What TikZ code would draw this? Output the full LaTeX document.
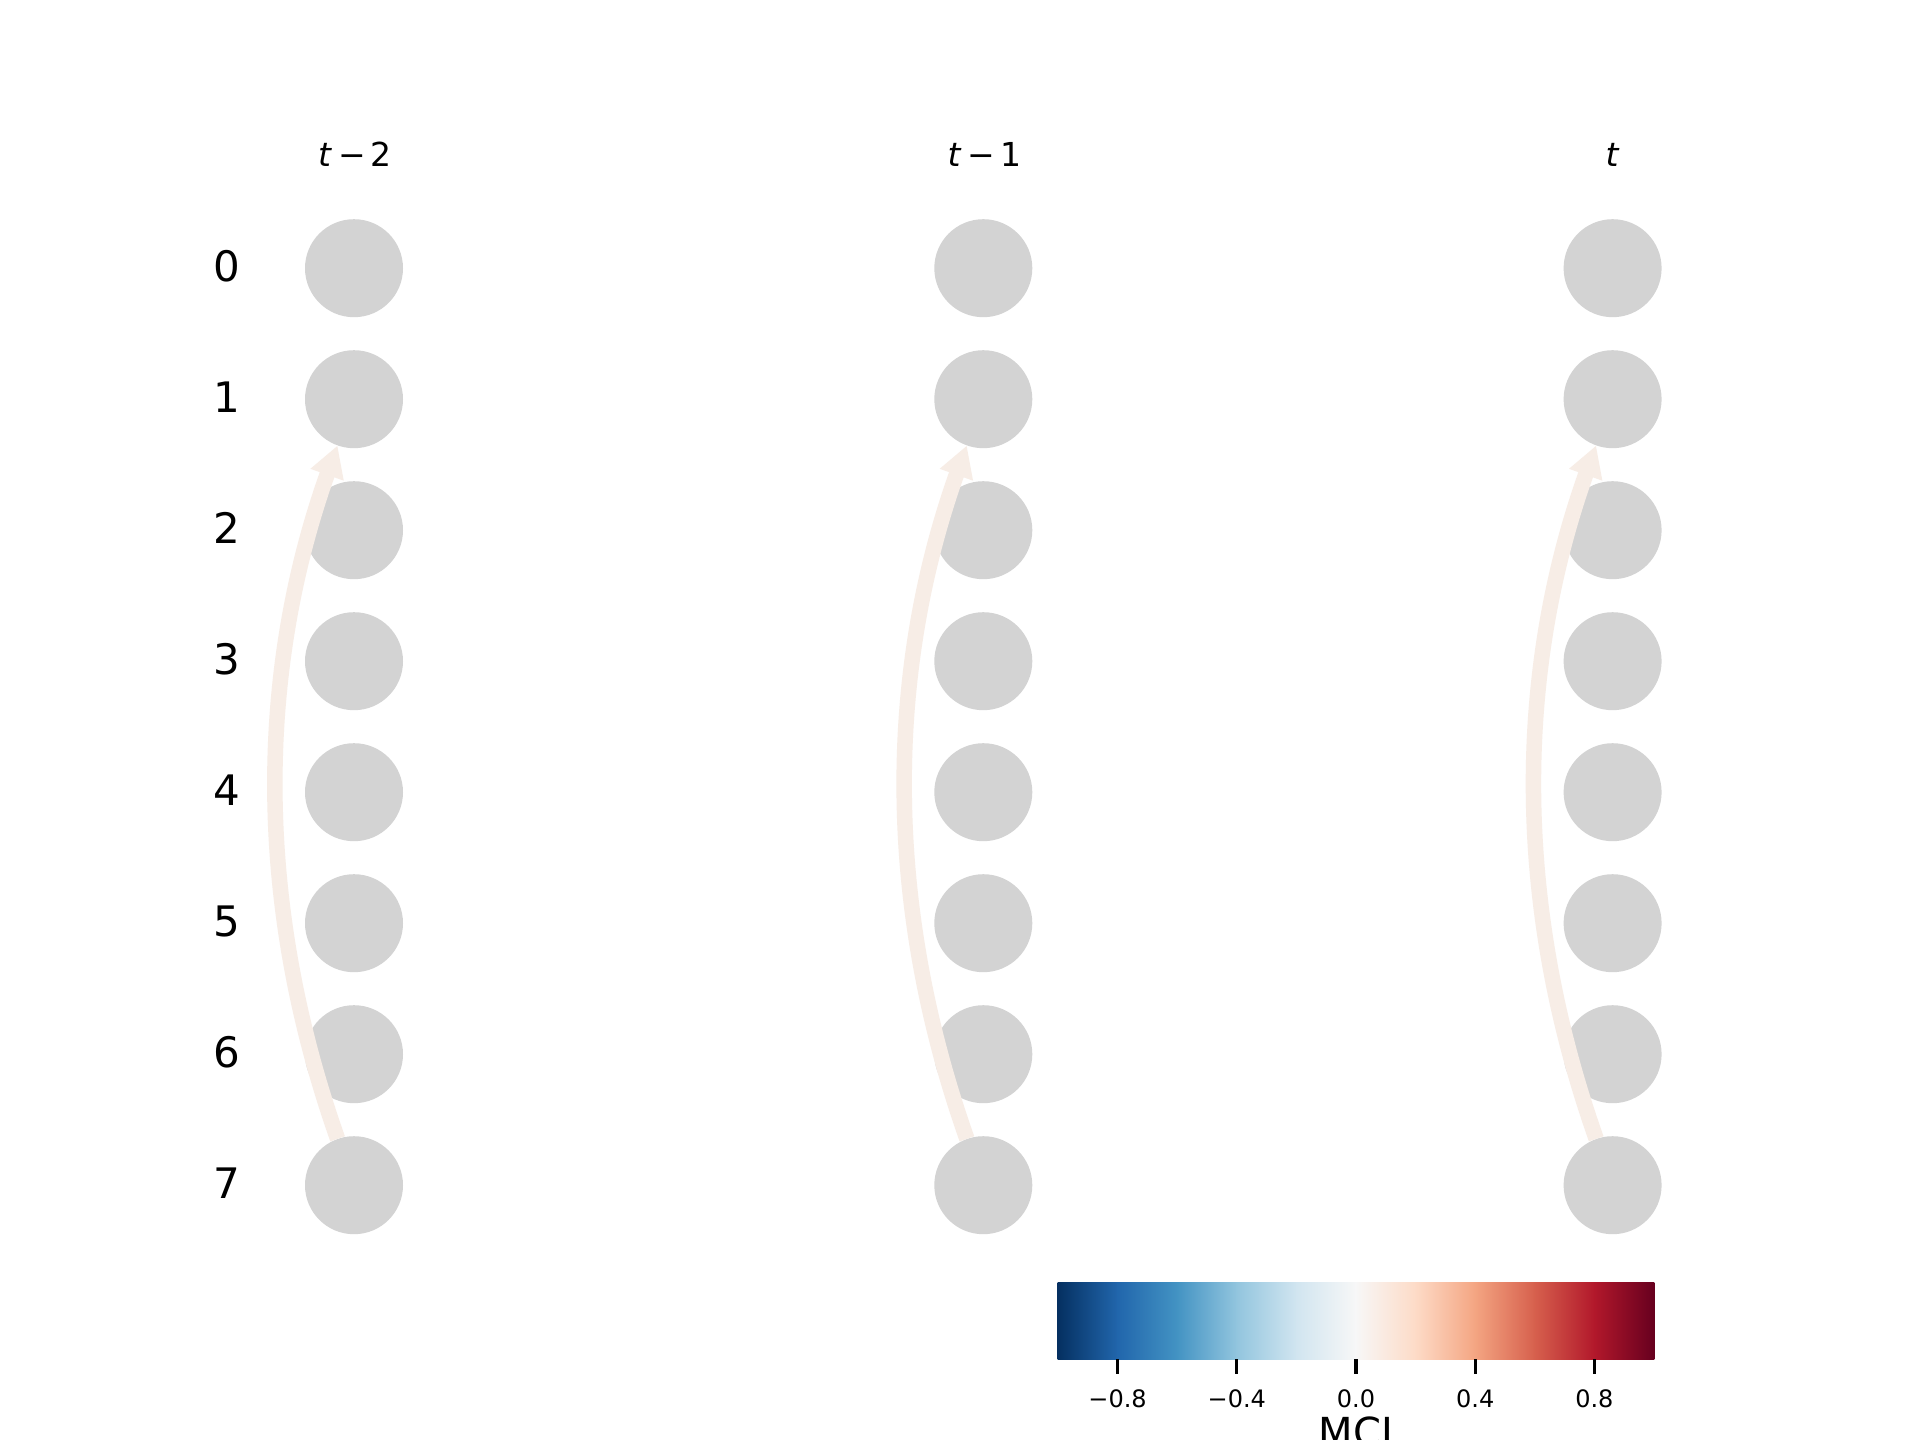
\documentclass[tikz,border=0pt]{standalone}
\usepackage{fontspec}
\setmainfont{DejaVu Sans}
\usetikzlibrary{arrows.meta}
\definecolor{nodegray}{RGB}{211,211,211}
\definecolor{arrowc}{RGB}{247,237,230}
\definecolor{cbA}{HTML}{053061}
\definecolor{cbB}{HTML}{2166AC}
\definecolor{cbC}{HTML}{4393C3}
\definecolor{cbD}{HTML}{92C5DE}
\definecolor{cbE}{HTML}{D1E5F0}
\definecolor{cbF}{HTML}{F7F7F7}
\definecolor{cbG}{HTML}{FDDBC7}
\definecolor{cbH}{HTML}{F4A582}
\definecolor{cbI}{HTML}{D6604D}
\definecolor{cbJ}{HTML}{B2182B}
\definecolor{cbK}{HTML}{67001F}
\tikzset{
  vnode/.style={circle, fill=nodegray, minimum size=98pt, inner sep=0pt},
  rowlab/.style={anchor=base, inner sep=0pt, font=\fontsize{42}{50}\selectfont},
  ttl/.style={anchor=base, inner sep=0pt, font=\fontsize{33}{40}\selectfont},
  ticklab/.style={anchor=base, inner sep=0pt, font=\fontsize{24}{28}\selectfont},
  cblab/.style={anchor=base, inner sep=0pt, font=\fontsize{40}{48}\selectfont},
  arr/.style={draw=arrowc, line width=15.5pt, -{Triangle[length=31pt,width=33pt]}},
  cbtick/.style={draw=black, line width=3.2pt}
}
\begin{document}
\begin{tikzpicture}[x=1pt,y=-1pt]
\useasboundingbox (0,0) rectangle (1920,1440);
\fill[white] (0,0) rectangle (1920,1440);

% nodes
\foreach \c/\cx in {0/354,1/983.3,2/1612.6}{
  \foreach \r in {0,...,7}{
    \node[vnode] (n\c-\r) at (\cx,{268.2+131*\r}) {};
  }
}
% row labels
\foreach \r in {0,...,7}{
  \node[rowlab] (lab\r) at (227,{268.2+131*\r+13.7}) {\r};
}
% column titles
\node[ttl] (title0) at (355,166) {\textit{t}\hspace{6pt}−\hspace{5pt}2};
\node[ttl] (title1) at (984.3,166) {\textit{t}\hspace{6pt}−\hspace{5pt}1};
\node[ttl] (title2) at (1612.6,166) {\textit{t}};

% arrows
\foreach \c/\cx in {0/354,1/983.3,2/1612.6}{
  \draw[arr] (n\c-7) .. controls ({\cx-98},908) and ({\cx-98.7},676) .. (n\c-1);
}

% colorbar
\foreach \i/\ca/\cb in {0/cbA/cbB,1/cbB/cbC,2/cbC/cbD,3/cbD/cbE,4/cbE/cbF,5/cbF/cbG,6/cbG/cbH,7/cbH/cbI,8/cbI/cbJ,9/cbJ/cbK}{
  \shade[left color=\ca, right color=\cb] ({1058+59.6*\i-0.3},1282) rectangle ({1058+59.6*(\i+1)+0.3},1359);
}
\foreach \v/\lab [count=\k] in {-0.8/−0.8,-0.4/−0.4,0/0.0,0.4/0.4,0.8/0.8}{
  \coordinate (tk\k) at ({1356+298*\v},1359);
  \coordinate (tke\k) at ({1356+298*\v},1374);
  \draw[cbtick] (tk\k) -- (tke\k);
  \node[ticklab] (tl\k) at ({1356+298*\v},1407) {\lab};
}
\node[cblab] (mci) at (1356,1446) {MCI};
\end{tikzpicture}
\end{document}
